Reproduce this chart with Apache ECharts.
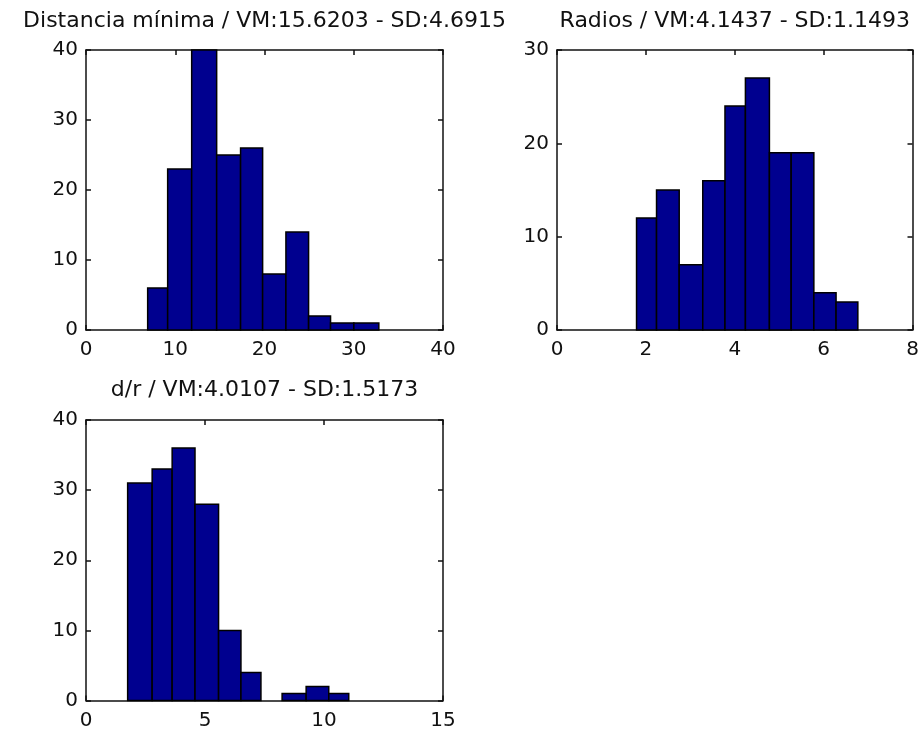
<!DOCTYPE html>
<html>
<head>
<meta charset="utf-8">
<script src="https://cdn.jsdelivr.net/npm/echarts@6/dist/echarts.min.js"></script>
<style>
html,body{margin:0;padding:0;background:#fff;}
#chart{width:923px;height:740px;}
</style>
</head>
<body>
<div id="chart"></div>
<script>
// ---- Data ----
const titles = [
  'Distancia mínima / VM:15.6203 - SD:4.6915',
  'Radios / VM:4.1437 - SD:1.1493',
  'd/r / VM:4.0107 - SD:1.5173'
];
// Bin edges (11 per histogram) and counts (10 per histogram)
const distEdges = [6.91, 9.15, 11.84, 14.64, 17.32, 19.79, 22.40, 24.94, 27.40, 30.01, 32.81];
const distCounts = [6, 23, 40, 25, 26, 8, 14, 2, 1, 1];
const radEdges = [1.79, 2.24, 2.75, 3.28, 3.78, 4.24, 4.78, 5.27, 5.78, 6.28, 6.77];
const radCounts = [12, 15, 7, 16, 24, 27, 19, 19, 4, 3];
const drEdges = [1.75, 2.78, 3.62, 4.58, 5.57, 6.51, 7.35, 8.24, 9.25, 10.20, 11.04];
const drCounts = [31, 33, 36, 28, 10, 4, 0, 1, 2, 1];
// Axis ranges / ticks
const xRanges = [[0, 40, 10], [0, 8, 2], [0, 15, 5]];
const yRanges = [[0, 40, 10], [0, 30, 10], [0, 40, 10]];

// ---- Layout ----
const FONT = 'DejaVu Sans';
const grids = [
  {left: 86, top: 50, width: 357, height: 280},
  {left: 557, top: 50, width: 355.5, height: 280},
  {left: 86, top: 420, width: 357, height: 280.5}
];
const titleY = [10, 10, 379];

function toHist(edges, counts) {
  return counts.map((c, i) => [edges[i], edges[i + 1], c]);
}
const hists = [toHist(distEdges, distCounts), toHist(radEdges, radCounts), toHist(drEdges, drCounts)];

const xAxes = [], yAxes = [], series = [], graphics = [];
const lineStyle = {color: '#111', width: 1.5};
grids.forEach((g, i) => {
  const [xmin, xmax, xint] = xRanges[i];
  const [ymin, ymax, yint] = yRanges[i];
  const common = {
    type: 'value', gridIndex: i,
    axisLine: {show: true, onZero: false, lineStyle},
    axisTick: {show: true, inside: true, length: 5, lineStyle},
    splitLine: {show: false}
  };
  xAxes.push(Object.assign({}, common, {
    position: 'bottom', min: xmin, max: xmax, interval: xint,
    axisLabel: {show: true, fontFamily: FONT, fontSize: 20, color: '#111', margin: 10}
  }));
  xAxes.push(Object.assign({}, common, {
    position: 'top', min: xmin, max: xmax, interval: xint,
    axisLabel: {show: false}
  }));
  yAxes.push(Object.assign({}, common, {
    position: 'left', min: ymin, max: ymax, interval: yint,
    axisLabel: {show: true, fontFamily: FONT, fontSize: 20, color: '#111', margin: 8}
  }));
  yAxes.push(Object.assign({}, common, {
    position: 'right', min: ymin, max: ymax, interval: yint,
    axisLabel: {show: false}
  }));
  series.push({
    type: 'custom',
    xAxisIndex: i * 2,
    yAxisIndex: i * 2,
    data: hists[i],
    encode: {x: [0, 1], y: 2},
    renderItem: function (params, api) {
      if (!api.value(2)) return null;
      const p0 = api.coord([api.value(0), api.value(2)]);
      const p1 = api.coord([api.value(1), 0]);
      return {
        type: 'rect',
        shape: {x: p0[0], y: p0[1], width: p1[0] - p0[0], height: p1[1] - p0[1]},
        style: {fill: '#00008F', stroke: '#000', lineWidth: 1.5}
      };
    },
    silent: true,
    animation: false
  });
  graphics.push({
    type: 'text',
    x: g.left + g.width / 2,
    y: titleY[i],
    style: {text: titles[i], font: '22px "' + FONT + '"', fill: '#111', textAlign: 'center', textVerticalAlign: 'top'}
  });
});

const chart = echarts.init(document.getElementById('chart'), null, {renderer: 'canvas'});
chart.setOption({
  backgroundColor: '#fff',
  animation: false,
  grid: grids,
  xAxis: xAxes,
  yAxis: yAxes,
  series: series,
  graphic: graphics
});
</script>
</body>
</html>
